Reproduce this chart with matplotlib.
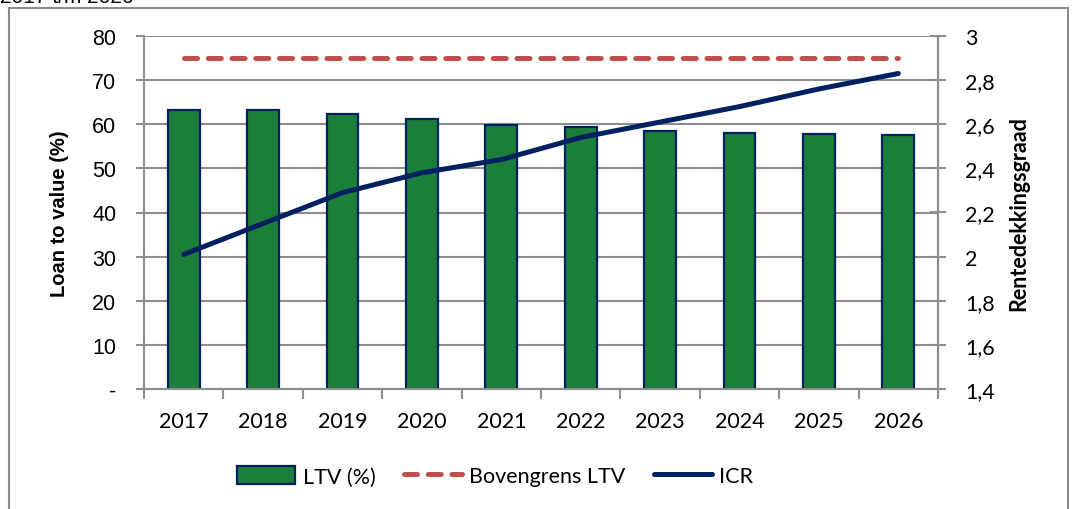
import numpy as np
import matplotlib
matplotlib.use("Agg")
import matplotlib.pyplot as plt
from matplotlib.patches import Rectangle, Patch
from matplotlib.lines import Line2D
from matplotlib.ticker import FuncFormatter, FixedLocator

years = ["2017", "2018", "2019", "2020", "2021", "2022", "2023", "2024", "2025", "2026"]
ltv = [63.3, 63.2, 62.4, 61.1, 59.9, 59.3, 58.5, 58.1, 57.8, 57.5]
ltv_cap = [75, 75, 75, 75, 75, 75, 75, 75, 75, 75]
icr = [2.01, 2.15, 2.29, 2.38, 2.44, 2.54, 2.61, 2.68, 2.76, 2.83]

GREEN = "#1B7F3A"
NAVY = "#002060"
RED = "#C0504D"
GRID = "#8E8E8E"
CAL = "Lato"
ARIAL = "Liberation Sans"

plt.rcParams["lines.scale_dashes"] = False

fig = plt.figure(figsize=(10.72, 5.10), dpi=100)
fig.patch.set_facecolor("white")

# outer frame (bottom edge runs off the picture)
fig.patches.append(Rectangle((9 / 1072, -0.1), 1059 / 1072, 1.1 - 9 / 510,
                             transform=fig.transFigure, fill=False,
                             edgecolor="#8C8C8C", linewidth=1.5))
fig.text(0.0, 1 - 3 / 510, "2017 t/m 2026", fontsize=15, family=ARIAL,
         ha="left", va="baseline")

ax = fig.add_axes([144 / 1072, 1 - 390 / 510, (938 - 144) / 1072, (390 - 37) / 510])
ax2 = ax.twinx()

x = np.arange(len(years))
ax.bar(x, ltv, width=0.40, color=GREEN, edgecolor=NAVY, linewidth=1.6, zorder=2)
ax.plot(x, ltv_cap, color=RED, linewidth=3.6, dashes=(9.4, 7.7),
        dash_capstyle="round", zorder=3)
ax2.plot(x, icr, color=NAVY, linewidth=3.6, solid_capstyle="round", zorder=3)

ax.set_xlim(-0.5, len(years) - 0.5)
ax.set_ylim(0, 80)
ax2.set_ylim(1.4, 3.0)
ax.set_yticks(np.arange(0, 81, 10))
ax2.set_yticks(np.arange(1.4, 3.01, 0.2))

ax.yaxis.set_major_formatter(FuncFormatter(lambda v, p: "-" if v == 0 else f"{v:.0f}"))
ax2.yaxis.set_major_formatter(FuncFormatter(
    lambda v, p: (f"{v:.1f}".rstrip("0").rstrip(".")).replace(".", ",")))

ax.grid(axis="y", color=GRID, linewidth=1.5, zorder=0)
ax.set_axisbelow(True)

ax.xaxis.set_major_locator(FixedLocator(np.arange(-0.5, len(years), 1.0)))
ax.xaxis.set_minor_locator(FixedLocator(x))
ax.set_xticklabels([], minor=False)
ax.set_xticklabels(years, minor=True)
ax.tick_params(axis="x", which="major", length=7, width=1.5, color=GRID, direction="out")
ax.tick_params(axis="x", which="minor", length=0, pad=16, labelsize=15.5)
ax.tick_params(axis="y", length=6, width=1.5, color=GRID, direction="out",
               pad=14, labelsize=15.5)
ax2.tick_params(axis="y", length=11, width=1.5, color=GRID, direction="inout",
                pad=14, labelsize=15.5)

for t in ax.get_xticklabels(minor=True):
    t.set_family(CAL)
for t in ax.get_yticklabels():
    t.set_family(ARIAL)
for t in ax2.get_yticklabels():
    t.set_family(CAL)

for a in (ax, ax2):
    for s in a.spines.values():
        s.set_color(GRID)
        s.set_linewidth(1.5)
    a.spines["top"].set_visible(False)

ax.set_ylabel("Loan to value (%)", fontsize=14.5, fontweight="bold", family=ARIAL)
ax2.set_ylabel("Rentedekkingsgraad", fontsize=15.5, fontweight="bold", family=CAL,
               labelpad=10)
ax.yaxis.set_label_coords(-0.094, 0.5)

handles = [
    Patch(facecolor=GREEN, edgecolor=NAVY, linewidth=1.6),
    Line2D([0], [0], color=RED, linewidth=3.6, dashes=(9.4, 7.7), dash_capstyle="round"),
    Line2D([0], [0], color=NAVY, linewidth=3.6, solid_capstyle="round"),
]
labels = ["LTV (%)", "Bovengrens LTV", "ICR"]
fig.legend(handles, labels, loc="center", bbox_to_anchor=(0.462, 0.064), ncol=3,
           frameon=False, prop={"family": CAL, "size": 15.5}, handlelength=2.7,
           handletextpad=0.35, columnspacing=1.3, handleheight=0.85)

fig.savefig("out.png", dpi=100)
